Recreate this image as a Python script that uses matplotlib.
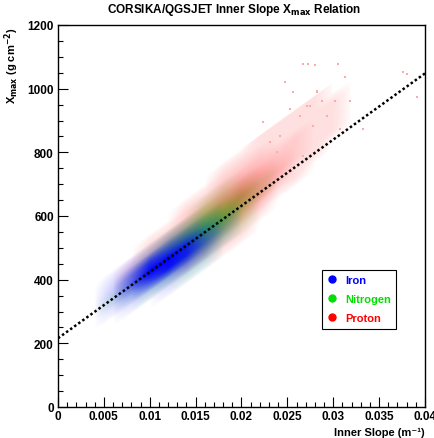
import numpy as np
import matplotlib
matplotlib.use('Agg')
import matplotlib.pyplot as plt
from matplotlib.colors import to_rgb
from matplotlib.lines import Line2D
from matplotlib.ticker import MultipleLocator

plt.rcParams['font.family'] = ['Liberation Sans', 'DejaVu Sans']
plt.rcParams['font.weight'] = 'bold'
plt.rcParams['mathtext.default'] = 'bf'

# ── Fit line ─────────────────────────────────────────────────────────────────
fit_x = [0.0, 0.04]
fit_y = [216.0, 1048.0]

# ── Point-cloud density (0 = empty, 10 = solid) ──────────────────────────────
# rows: inner-slope nodes, columns: offset of X_max from the fit line (g/cm2)
slope_nodes = [0.004, 0.006, 0.008, 0.010, 0.012, 0.014, 0.016, 0.018,
               0.020, 0.022, 0.024, 0.026, 0.028, 0.030, 0.032]
offset_nodes = [-120, -90, -60, -30, 0, 30, 60, 90, 120, 150, 180]

iron_density = [
    [0, 0, 0, 0, 0, 0, 0, 0, 0, 0, 0],
    [0, 0, 0, 0.5, 1, 1, 0.5, 0, 0, 0, 0],
    [0, 0, 0.5, 2, 5, 4, 1, 0, 0, 0, 0],
    [0, 0, 1, 6, 10, 7, 1, 0, 0, 0, 0],
    [0, 0.5, 2, 9, 10, 5, 1, 0, 0, 0, 0],
    [0, 0.5, 3, 8, 8, 3, 0.5, 0, 0, 0, 0],
    [0, 0.5, 2, 4, 3, 1, 0, 0, 0, 0, 0],
    [0, 0, 0.5, 1, 0.5, 0, 0, 0, 0, 0, 0],
    [0, 0, 0, 0, 0, 0, 0, 0, 0, 0, 0],
    [0, 0, 0, 0, 0, 0, 0, 0, 0, 0, 0],
    [0, 0, 0, 0, 0, 0, 0, 0, 0, 0, 0],
    [0, 0, 0, 0, 0, 0, 0, 0, 0, 0, 0],
    [0, 0, 0, 0, 0, 0, 0, 0, 0, 0, 0],
    [0, 0, 0, 0, 0, 0, 0, 0, 0, 0, 0],
    [0, 0, 0, 0, 0, 0, 0, 0, 0, 0, 0],
]
nitrogen_density = [
    [0, 0, 0, 0, 0, 0, 0, 0, 0, 0, 0],
    [0, 0, 0, 0, 0.5, 0, 0, 0, 0, 0, 0],
    [0, 0, 0, 0.5, 1, 0.5, 0, 0, 0, 0, 0],
    [0, 0, 0.5, 1.5, 3, 2, 0.5, 0, 0, 0, 0],
    [0, 0, 1, 3, 5, 4, 1, 0, 0, 0, 0],
    [0, 0.5, 1, 4, 7, 5, 1.5, 0, 0, 0, 0],
    [0, 0.5, 1.5, 4, 7, 5, 2, 0.5, 0, 0, 0],
    [0, 0, 1, 3, 5, 3, 1, 0.5, 0, 0, 0],
    [0, 0, 0.5, 1, 2, 1.5, 0.5, 0, 0, 0, 0],
    [0, 0, 0, 0, 0.5, 0.5, 0, 0, 0, 0, 0],
    [0, 0, 0, 0, 0, 0, 0, 0, 0, 0, 0],
    [0, 0, 0, 0, 0, 0, 0, 0, 0, 0, 0],
    [0, 0, 0, 0, 0, 0, 0, 0, 0, 0, 0],
    [0, 0, 0, 0, 0, 0, 0, 0, 0, 0, 0],
    [0, 0, 0, 0, 0, 0, 0, 0, 0, 0, 0],
]
proton_density = [
    [0, 0, 0, 0, 0, 0, 0, 0, 0, 0, 0],
    [0, 0, 0, 0, 0, 0, 0, 0, 0, 0, 0],
    [0, 0, 0, 0, 0, 0.5, 0.5, 0, 0, 0, 0],
    [0, 0, 0, 0, 0.5, 1, 1, 0.5, 0, 0, 0],
    [0, 0, 0, 0.5, 1, 1.5, 1.5, 0.5, 0, 0, 0],
    [0, 0, 0.5, 1, 2, 3, 2, 1, 0.5, 0, 0],
    [0, 0, 1, 2, 3, 4, 3, 1.5, 0.5, 0, 0],
    [0, 0.5, 1, 2.5, 5, 5, 3.5, 2, 1, 0.5, 0],
    [0, 0.5, 1, 2.5, 4, 5, 3.5, 2, 1, 0.5, 0],
    [0, 0, 0.5, 1.5, 3, 3, 2.5, 1.5, 1, 0.5, 0.5],
    [0, 0, 0, 0.5, 1.5, 2, 1.5, 1, 0.5, 0.5, 0.5],
    [0, 0, 0, 0.5, 0.5, 1, 1, 1, 0.5, 0.5, 0.5],
    [0, 0, 0, 0, 0.5, 0.5, 0.5, 0.5, 0.5, 0.5, 0.5],
    [0, 0, 0, 0, 0, 0.5, 0.5, 0.5, 0.5, 0, 0],
    [0, 0, 0, 0, 0, 0, 0, 0, 0, 0, 0],
]

# sparse proton outliers far above the band
proton_halo_x = [0.02674, 0.02728, 0.02801, 0.03055, 0.02474, 0.02529, 0.02710,
                 0.02819, 0.02874, 0.03019, 0.03128, 0.03183, 0.03328, 0.03764,
                 0.03800, 0.03909, 0.02565, 0.02747, 0.02638, 0.02420, 0.02783,
                 0.02928, 0.03074, 0.02311, 0.02383, 0.02674, 0.02238, 0.02820]
proton_halo_y = [1078, 1078, 1074, 1078, 1020, 936, 947,
                 994, 962, 962, 1036, 962, 873, 1051,
                 1046, 973, 989, 947, 915, 852, 884,
                 915, 873, 832, 800, 790, 894, 989]

species = ['Iron', 'Nitrogen', 'Proton']
species_colors = ['#0000ff', '#00e000', '#ff0000']


def density_image(table, xs, ys):
    """Bilinear lookup of a (slope, offset-from-line) table on an x/y pixel grid."""
    table = np.array(table, dtype=float)
    slope = (fit_y[1] - fit_y[0]) / (fit_x[1] - fit_x[0])
    gx, gy = np.meshgrid(xs, ys)
    resid = gy - (fit_y[0] + slope * gx)
    fi = (gx - slope_nodes[0]) / (slope_nodes[1] - slope_nodes[0])
    fj = (resid - offset_nodes[0]) / (offset_nodes[1] - offset_nodes[0])
    inside = (fi >= 0) & (fi <= len(slope_nodes) - 1) & (fj >= 0) & (fj <= len(offset_nodes) - 1)
    fi = np.clip(fi, 0, len(slope_nodes) - 1.001)
    fj = np.clip(fj, 0, len(offset_nodes) - 1.001)
    i0, j0 = fi.astype(int), fj.astype(int)
    ti, tj = fi - i0, fj - j0
    d = (table[i0, j0] * (1 - ti) * (1 - tj) + table[i0 + 1, j0] * ti * (1 - tj)
         + table[i0, j0 + 1] * (1 - ti) * tj + table[i0 + 1, j0 + 1] * ti * tj)
    return np.where(inside, d, 0.0)


# ── Figure ───────────────────────────────────────────────────────────────────
fig = plt.figure(figsize=(4.35, 4.39), dpi=100)
ax = fig.add_axes([58 / 435, 31 / 439, 367 / 435, 382 / 439])

xs = np.linspace(0, 0.04, 734)
ys = np.linspace(0, 1200, 764)
densities = {'Iron': iron_density, 'Nitrogen': nitrogen_density, 'Proton': proton_density}
for name in ['Proton', 'Nitrogen', 'Iron']:
    rgb = to_rgb(species_colors[species.index(name)])
    d = density_image(densities[name], xs, ys)
    rgba = np.zeros(d.shape + (4,))
    rgba[..., :3] = rgb
    rgba[..., 3] = np.clip(d / 10.0, 0, 1) ** 0.7
    ax.imshow(rgba, origin='lower', extent=(0, 0.04, 0, 1200), aspect='auto',
              interpolation='bilinear', zorder=1)

ax.scatter(proton_halo_x, proton_halo_y, s=1.5, marker='s', color='#ffaaaa',
           linewidths=0, zorder=1)

ax.plot(fit_x, fit_y, color='k', lw=1.8, linestyle=(0, (1, 1)),
        dash_capstyle='butt', zorder=3)

ax.set_xlim(0, 0.04)
ax.set_ylim(0, 1200)
ax.xaxis.set_minor_locator(MultipleLocator(0.001))
ax.yaxis.set_major_locator(MultipleLocator(200))
ax.yaxis.set_minor_locator(MultipleLocator(50))
ax.set_xticks([0, 0.005, 0.01, 0.015, 0.02, 0.025, 0.03, 0.035, 0.04])
ax.set_xticklabels(['0', '0.005', '0.01', '0.015', '0.02', '0.025', '0.03', '0.035', '0.04'])
ax.tick_params(which='both', direction='in', top=False, right=False,
               labelsize=8.5, width=0.8)
ax.tick_params(which='major', length=7, pad=3)
ax.tick_params(axis='x', which='major', pad=2)
ax.tick_params(which='minor', length=3.5)
for lab in ax.get_xticklabels() + ax.get_yticklabels():
    lab.set_fontweight('bold')
for sp in ax.spines.values():
    sp.set_linewidth(1.0)

fig.text(234 / 435, 1 - 10 / 439, r'CORSIKA/QGSJET Inner Slope X$_{\mathbf{max}}$ Relation',
         ha='center', va='center', fontsize=8.5, fontweight='bold')
fig.text(425 / 435, 1 - 438 / 439, 'Inner Slope (m\u207b\u00b9)',
         ha='right', va='bottom', fontsize=8, fontweight='bold')
fig.text(12 / 435, 1 - 28 / 439, r'X$_{\mathbf{max}}$ (g cm$^{\mathbf{-2}}$)',
         ha='center', va='top', rotation=90, fontsize=8, fontweight='bold')

handles = [Line2D([], [], marker='o', linestyle='none', color=c, markersize=5)
           for c in species_colors]
leg = ax.legend(handles, species, loc='upper left', bbox_to_anchor=(0.7185, 0.3594),
                frameon=True, fancybox=False, edgecolor='k', framealpha=1,
                prop={'size': 8, 'weight': 'bold'}, labelcolor=species_colors,
                handlelength=0.8, handletextpad=0.8, labelspacing=0.8,
                borderpad=0.5, borderaxespad=0)
leg.get_frame().set_linewidth(0.8)

fig.savefig('out.png', dpi=100)
